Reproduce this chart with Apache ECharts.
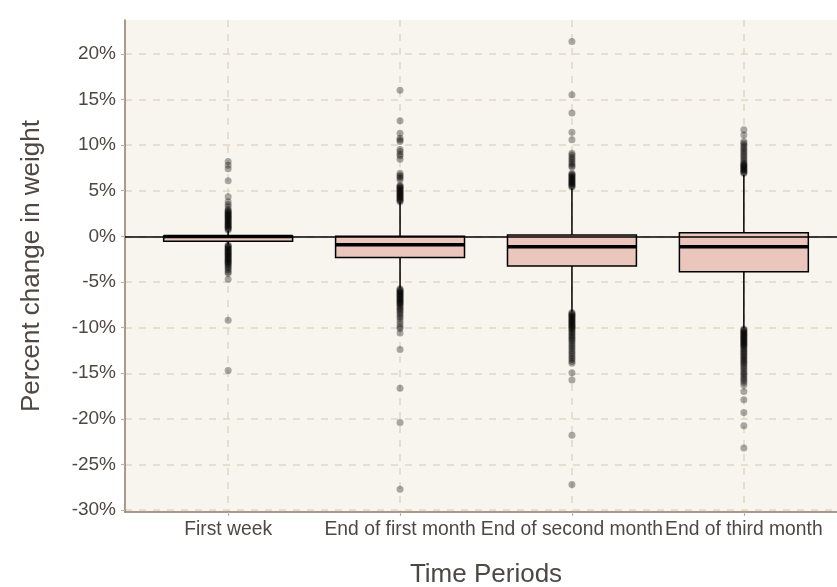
<!DOCTYPE html>
<html>
<head>
<meta charset="utf-8">
<script src="https://cdn.jsdelivr.net/npm/echarts@6/dist/echarts.min.js"></script>
<style>html,body{margin:0;padding:0;background:#fff}#c{width:837px;height:587px}</style>
</head>
<body>
<div id="c"></div>
<script>
// ---- data ----
const categories = ['First week', 'End of first month', 'End of second month', 'End of third month'];
const yTicks = [-30, -25, -20, -15, -10, -5, 0, 5, 10, 15, 20];
// [lower whisker, Q1, median, Q3, upper whisker]
const boxFirstWeek   = [-0.9, -0.55, -0.02, 0.05, 0.6];
const boxFirstMonth  = [-5.7, -2.33, -0.91, 0.0, 3.8];
const boxSecondMonth = [-8.25, -3.25, -1.13, 0.15, 5.27];
const boxThirdMonth  = [-10.08, -3.87, -1.13, 0.4, 6.73];

const outFirstWeek = [8.2, 7.8, 7.4, 6.1, 4.35, 3.8, 3.5, 3.2, 2.9, 2.8, 2.7, 2.6, 2.5, 2.4, 2.3, 2.2, 2.1, 2.0, 1.9, 1.8, 1.7, 1.6, 1.5, 1.4, 1.3, 1.2, 1.1, 1.0, 0.9, 0.8, 0.7,
  -0.95, -1.05, -1.15, -1.25, -1.35, -1.45, -1.55, -1.65, -1.75, -1.85, -1.95, -2.05, -2.15, -2.25, -2.35, -2.45, -2.55, -2.65, -2.75, -2.85, -2.95, -3.05, -3.2, -3.35, -3.5, -3.7, -3.9, -4.05, -4.7, -9.2, -14.7];
const outFirstMonth = [16.0, 12.65, 11.3, 10.75, 10.55, 10.4, 9.5, 9.3, 9.0, 8.8, 8.45, 6.9, 6.7, 6.55, 6.4, 6.2, 5.6, 5.5, 5.4, 5.3, 5.2, 5.1, 5.0, 4.9, 4.8, 4.7, 4.6, 4.5, 4.4, 4.3, 4.2, 4.1, 4.0, 3.9, 3.8,
  -5.75, -5.85, -5.95, -6.05, -6.15, -6.25, -6.35, -6.45, -6.55, -6.65, -6.75, -6.85, -6.95, -7.05, -7.15, -7.25, -7.35, -7.45, -7.6, -7.75, -7.9, -8.05, -8.2, -8.4, -8.6, -8.8, -9.0, -9.3, -9.6, -9.9, -10.1, -10.6, -12.4, -16.65, -20.4, -27.7];
const outSecondMonth = [21.35, 15.5, 13.5, 11.4, 10.57, 9.1, 8.9, 8.7, 8.5, 8.3, 8.1, 7.9, 7.7, 7.6, 6.9, 6.8, 6.7, 6.6, 6.5, 6.4, 6.3, 6.2, 6.1, 6.0, 5.9, 5.8, 5.7, 5.6, 5.5, 5.4,
  -8.35, -8.45, -8.55, -8.65, -8.75, -8.85, -8.95, -9.05, -9.15, -9.25, -9.35, -9.45, -9.55, -9.65, -9.75, -9.85, -9.95, -10.05, -10.15, -10.3, -10.45, -10.6, -10.75, -10.9, -11.05, -11.2, -11.35, -11.5, -11.7, -11.9, -12.1, -12.3, -12.5, -12.7, -12.9, -13.1, -13.3, -13.5, -13.7, -13.9, -14.95, -15.75, -21.8, -27.2];
const outThirdMonth = [11.67, 11.1, 10.4, 10.2, 10.0, 9.8, 9.6, 9.4, 9.2, 9.0, 8.8, 8.6, 8.4, 8.2, 8.0, 7.9, 7.8, 7.7, 7.6, 7.5, 7.4, 7.3, 7.2, 7.1, 7.0, 6.9,
  -10.15, -10.25, -10.35, -10.45, -10.55, -10.65, -10.75, -10.85, -10.95, -11.05, -11.15, -11.25, -11.35, -11.45, -11.55, -11.65, -11.75, -11.85, -11.95, -12.05, -12.2, -12.35, -12.5, -12.65, -12.8, -12.95, -13.1, -13.25, -13.4, -13.55, -13.7, -13.85, -14.0, -14.2, -14.4, -14.6, -14.8, -15.0, -15.2, -15.4, -15.6, -15.8, -16.0, -16.3, -17.0, -17.9, -19.3, -20.75, -23.2];

// ---- build ----
const boxes = [boxFirstWeek, boxFirstMonth, boxSecondMonth, boxThirdMonth];
const outliers = [outFirstWeek, outFirstMonth, outSecondMonth, outThirdMonth];
const boxData = boxes.map((b, i) => [i + 1].concat(b));
const outData = [];
outliers.forEach((arr, i) => arr.forEach(v => outData.push([i + 1, v])));

const txt = '#4D4843';
const axisCol = '#8C7B68';
const gridCol = '#E0D8C6';
const FONT = 'Liberation Sans, Arial, sans-serif';
const HALF = 0.375;

const chart = echarts.init(document.getElementById('c'));
chart.setOption({
  animation: false,
  backgroundColor: '#ffffff',
  grid: {
    left: 125, right: -10, top: 20, bottom: 75,
    show: true, backgroundColor: '#F8F5EE', borderWidth: 0,
    outerBoundsMode: 'none', containLabel: false
  },
  xAxis: {
    type: 'value', min: 0.4, max: 4.6,
    name: 'Time Periods', nameLocation: 'middle', nameGap: 50,
    nameTextStyle: { fontSize: 26, color: txt, fontFamily: FONT },
    axisLine: { show: true, onZero: false, lineStyle: { color: axisCol, width: 1.5 } },
    axisTick: { show: true, customValues: [1, 2, 3, 4], length: 4, lineStyle: { color: '#BFB3A0', width: 1.2 } },
    axisLabel: {
      customValues: [1, 2, 3, 4], color: txt, fontSize: 19.3, fontFamily: FONT, margin: 8,
      formatter: v => categories[Math.round(v) - 1] || ''
    },
    splitLine: { show: true, lineStyle: { color: gridCol, type: [7, 7], width: 1.5 } }
  },
  yAxis: {
    type: 'value', min: -30.2, max: 23.7,
    name: 'Percent change in weight', nameLocation: 'middle', nameGap: 80,
    nameTextStyle: { fontSize: 26, color: txt, fontFamily: FONT },
    axisLine: { show: true, onZero: false, lineStyle: { color: axisCol, width: 1.5 } },
    axisTick: { show: true, customValues: yTicks, length: 4, lineStyle: { color: '#BFB3A0', width: 1.2 } },
    axisLabel: { customValues: yTicks, color: txt, fontSize: 19, fontFamily: FONT, margin: 9, formatter: v => v + '%' },
    splitLine: { show: true, lineStyle: { color: gridCol, type: [7, 7], width: 1.5 } }
  },
  series: [
    {
      type: 'custom',
      data: boxData,
      z: 3,
      renderItem: function (params, api) {
        const x = api.value(0);
        const lo = api.coord([x, api.value(1)]);
        const q1 = api.coord([x, api.value(2)]);
        const med = api.coord([x, api.value(3)]);
        const q3 = api.coord([x, api.value(4)]);
        const hi = api.coord([x, api.value(5)]);
        const l = api.coord([x - HALF, 0])[0];
        const r = api.coord([x + HALF, 0])[0];
        const ls = { stroke: '#000', lineWidth: 1.5 };
        return {
          type: 'group',
          children: [
            { type: 'line', shape: { x1: lo[0], y1: lo[1], x2: q1[0], y2: q1[1] }, style: ls },
            { type: 'line', shape: { x1: q3[0], y1: q3[1], x2: hi[0], y2: hi[1] }, style: ls },
            { type: 'rect', shape: { x: l, y: q3[1], width: r - l, height: q1[1] - q3[1] },
              style: { fill: '#EAC6BC', stroke: '#000', lineWidth: 1.5 } },
            { type: 'line', shape: { x1: l, y1: med[1], x2: r, y2: med[1] }, style: { stroke: '#000', lineWidth: 3.5 } }
          ]
        };
      }
    },
    {
      type: 'scatter',
      data: outData,
      z: 4,
      symbol: 'circle',
      symbolSize: 7,
      itemStyle: { color: 'rgba(0,0,0,0.4)', borderWidth: 0 },
      markLine: {
        silent: true, symbol: 'none', z: 5,
        label: { show: false },
        lineStyle: { color: '#000', width: 1.5, type: 'solid' },
        data: [{ yAxis: 0 }]
      }
    }
  ]
});
</script>
</body>
</html>
